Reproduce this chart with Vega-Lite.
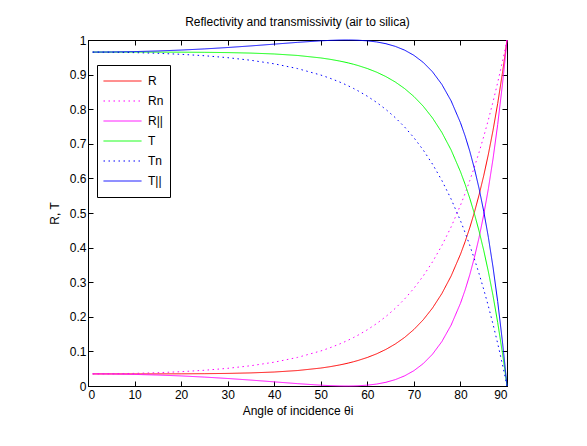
{
  "$schema": "https://vega.github.io/schema/vega-lite/v6.json",
  "autosize": "none",
  "width": 419,
  "height": 346,
  "padding": {"left": 88, "top": 40, "right": 80, "bottom": 60},
  "background": "white",
  "title": {"text": "Reflectivity and transmissivity (air to silica)", "fontSize": 12, "fontWeight": "normal", "font": "Liberation Sans", "color": "black", "offset": 5},
  "config": {
    "view": {"stroke": "black", "strokeWidth": 1},
    "font": "Liberation Sans",
    "axis": {"labelFont": "Liberation Sans", "titleFont": "Liberation Sans", "labelFontSize": 12, "titleFontSize": 12, "titleFontWeight": "normal", "labelColor": "black", "titleColor": "black", "domainColor": "black", "tickColor": "black", "grid": false, "tickSize": -5}
  },
  "data": {"values": [
    {"theta": 1, "R": 0.03497, "Rn": 0.03498, "Rp": 0.03495, "T": 0.96503, "Tn": 0.96502, "Tp": 0.96505},
    {"theta": 5, "R": 0.03497, "Rn": 0.03533, "Rp": 0.03460, "T": 0.96503, "Tn": 0.96467, "Tp": 0.96540},
    {"theta": 10, "R": 0.03498, "Rn": 0.03646, "Rp": 0.03350, "T": 0.96502, "Tn": 0.96354, "Tp": 0.96650},
    {"theta": 15, "R": 0.03504, "Rn": 0.03842, "Rp": 0.03167, "T": 0.96496, "Tn": 0.96158, "Tp": 0.96833},
    {"theta": 20, "R": 0.03522, "Rn": 0.04135, "Rp": 0.02909, "T": 0.96478, "Tn": 0.95865, "Tp": 0.97091},
    {"theta": 25, "R": 0.03561, "Rn": 0.04546, "Rp": 0.02576, "T": 0.96439, "Tn": 0.95454, "Tp": 0.97424},
    {"theta": 30, "R": 0.03640, "Rn": 0.05107, "Rp": 0.02173, "T": 0.96360, "Tn": 0.94893, "Tp": 0.97827},
    {"theta": 35, "R": 0.03785, "Rn": 0.05863, "Rp": 0.01707, "T": 0.96215, "Tn": 0.94137, "Tp": 0.98293},
    {"theta": 40, "R": 0.04039, "Rn": 0.06882, "Rp": 0.01197, "T": 0.95961, "Tn": 0.93118, "Tp": 0.98803},
    {"theta": 45, "R": 0.04469, "Rn": 0.08257, "Rp": 0.00682, "T": 0.95531, "Tn": 0.91743, "Tp": 0.99318},
    {"theta": 50, "R": 0.05183, "Rn": 0.10128, "Rp": 0.00237, "T": 0.94817, "Tn": 0.89872, "Tp": 0.99763},
    {"theta": 52, "R": 0.05582, "Rn": 0.11057, "Rp": 0.00107, "T": 0.94418, "Tn": 0.88943, "Tp": 0.99893},
    {"theta": 54, "R": 0.06068, "Rn": 0.12114, "Rp": 0.00023, "T": 0.93932, "Tn": 0.87886, "Tp": 0.99977},
    {"theta": 55, "R": 0.06349, "Rn": 0.12695, "Rp": 0.00003, "T": 0.93651, "Tn": 0.87305, "Tp": 0.99997},
    {"theta": 56, "R": 0.06659, "Rn": 0.13316, "Rp": 0.00002, "T": 0.93341, "Tn": 0.86684, "Tp": 0.99998},
    {"theta": 57, "R": 0.07000, "Rn": 0.13979, "Rp": 0.00021, "T": 0.93000, "Tn": 0.86021, "Tp": 0.99979},
    {"theta": 58, "R": 0.07376, "Rn": 0.14687, "Rp": 0.00065, "T": 0.92624, "Tn": 0.85313, "Tp": 0.99935},
    {"theta": 60, "R": 0.08245, "Rn": 0.16252, "Rp": 0.00239, "T": 0.91755, "Tn": 0.83748, "Tp": 0.99761},
    {"theta": 62, "R": 0.09301, "Rn": 0.18041, "Rp": 0.00561, "T": 0.90699, "Tn": 0.81959, "Tp": 0.99439},
    {"theta": 64, "R": 0.10582, "Rn": 0.20090, "Rp": 0.01074, "T": 0.89418, "Tn": 0.79910, "Tp": 0.98926},
    {"theta": 66, "R": 0.12138, "Rn": 0.22438, "Rp": 0.01837, "T": 0.87862, "Tn": 0.77562, "Tp": 0.98163},
    {"theta": 68, "R": 0.14027, "Rn": 0.25133, "Rp": 0.02922, "T": 0.85973, "Tn": 0.74867, "Tp": 0.97078},
    {"theta": 70, "R": 0.16325, "Rn": 0.28227, "Rp": 0.04424, "T": 0.83675, "Tn": 0.71773, "Tp": 0.95576},
    {"theta": 72, "R": 0.19123, "Rn": 0.31784, "Rp": 0.06462, "T": 0.80877, "Tn": 0.68216, "Tp": 0.93538},
    {"theta": 74, "R": 0.22533, "Rn": 0.35872, "Rp": 0.09194, "T": 0.77467, "Tn": 0.64128, "Tp": 0.90806},
    {"theta": 76, "R": 0.26697, "Rn": 0.40575, "Rp": 0.12820, "T": 0.73303, "Tn": 0.59425, "Tp": 0.87180},
    {"theta": 78, "R": 0.31793, "Rn": 0.45983, "Rp": 0.17604, "T": 0.68207, "Tn": 0.54017, "Tp": 0.82396},
    {"theta": 80, "R": 0.38054, "Rn": 0.52220, "Rp": 0.23887, "T": 0.61946, "Tn": 0.47780, "Tp": 0.76113},
    {"theta": 81, "R": 0.41688, "Rn": 0.55648, "Rp": 0.27727, "T": 0.58312, "Tn": 0.44352, "Tp": 0.72273},
    {"theta": 82, "R": 0.45732, "Rn": 0.59343, "Rp": 0.32121, "T": 0.54268, "Tn": 0.40657, "Tp": 0.67879},
    {"theta": 83, "R": 0.50226, "Rn": 0.63302, "Rp": 0.37150, "T": 0.49774, "Tn": 0.36698, "Tp": 0.62850},
    {"theta": 84, "R": 0.55223, "Rn": 0.67542, "Rp": 0.42904, "T": 0.44777, "Tn": 0.32458, "Tp": 0.57096},
    {"theta": 85, "R": 0.60786, "Rn": 0.72082, "Rp": 0.49489, "T": 0.39214, "Tn": 0.27918, "Tp": 0.50511},
    {"theta": 86, "R": 0.66987, "Rn": 0.76943, "Rp": 0.57031, "T": 0.33013, "Tn": 0.23057, "Tp": 0.42969},
    {"theta": 87, "R": 0.73907, "Rn": 0.82143, "Rp": 0.65670, "T": 0.26093, "Tn": 0.17857, "Tp": 0.34330},
    {"theta": 88, "R": 0.81640, "Rn": 0.87704, "Rp": 0.75576, "T": 0.18360, "Tn": 0.12296, "Tp": 0.24424},
    {"theta": 89, "R": 0.90296, "Rn": 0.93649, "Rp": 0.86943, "T": 0.09704, "Tn": 0.06351, "Tp": 0.13057},
    {"theta": 89.5, "R": 0.95008, "Rn": 0.96772, "Rp": 0.93243, "T": 0.04992, "Tn": 0.03228, "Tp": 0.06757},
    {"theta": 90, "R": 1, "Rn": 1, "Rp": 1, "T": 0, "Tn": 0, "Tp": 0}
  ]},
  "transform": [{"fold": ["R", "Rn", "Rp", "T", "Tn", "Tp"], "as": ["series", "value"]}],
  "layer": [
    {
      "mark": {"type": "line", "strokeWidth": 1},
      "encoding": {
        "x": {"field": "theta", "type": "quantitative", "scale": {"domain": [0, 90], "nice": false, "zero": false}, "axis": {"values": [0, 10, 20, 30, 40, 50, 60, 70, 80, 90], "title": "Angle of incidence θi", "titlePadding": 5, "labelPadding": 8}},
        "y": {"field": "value", "type": "quantitative", "scale": {"domain": [0, 1], "nice": false}, "axis": {"values": [0, 0.1, 0.2, 0.3, 0.4, 0.5, 0.6, 0.7, 0.8, 0.9, 1], "format": ".1~f", "title": "R, T", "titlePadding": 8, "labelPadding": 7}},
        "color": {"field": "series", "type": "nominal", "scale": {"domain": ["R", "Rn", "Rp", "T", "Tn", "Tp"], "range": ["#ff0000", "#ff00ff", "#ff00fe", "#00ff00", "#0000ff", "#0000fe"]},
          "legend": {"title": null, "orient": "none", "legendX": 9, "legendY": 25, "strokeColor": "black", "fillColor": "white", "padding": 6, "symbolType": "stroke", "symbolSize": 1444, "symbolStrokeWidth": 1, "labelFontSize": 12, "labelFont": "Liberation Sans", "labelColor": "black", "rowPadding": 0, "clipHeight": 20, "labelOffset": 6, "labelExpr": "datum.label == 'Rp' ? 'R||' : datum.label == 'Tp' ? 'T||' : datum.label"}},
        "strokeDash": {"field": "series", "type": "nominal", "scale": {"domain": ["R", "Rn", "Rp", "T", "Tn", "Tp"], "range": [[1, 0], [1.5, 3.5], [1, 0], [1, 0], [1.5, 3.5], [1, 0]]},
          "legend": {"title": null, "orient": "none", "legendX": 9, "legendY": 25, "strokeColor": "black", "fillColor": "white", "padding": 6, "symbolType": "stroke", "symbolSize": 1444, "symbolStrokeWidth": 1, "labelFontSize": 12, "labelFont": "Liberation Sans", "labelColor": "black", "rowPadding": 0, "clipHeight": 20, "labelOffset": 6, "labelExpr": "datum.label == 'Rp' ? 'R||' : datum.label == 'Tp' ? 'T||' : datum.label"}},
        "order": {"field": "theta", "type": "quantitative"}
      }
    },
    {
      "mark": {"type": "line", "opacity": 0},
      "encoding": {
        "x": {"field": "theta", "type": "quantitative", "axis": {"orient": "top", "values": [0, 10, 20, 30, 40, 50, 60, 70, 80, 90], "labels": false, "title": null}},
        "y": {"field": "value", "type": "quantitative", "axis": {"orient": "right", "values": [0, 0.1, 0.2, 0.3, 0.4, 0.5, 0.6, 0.7, 0.8, 0.9, 1], "labels": false, "title": null}},
        "detail": {"field": "series", "type": "nominal"}
      }
    }
  ],
  "resolve": {"axis": {"x": "independent", "y": "independent"}}
}
